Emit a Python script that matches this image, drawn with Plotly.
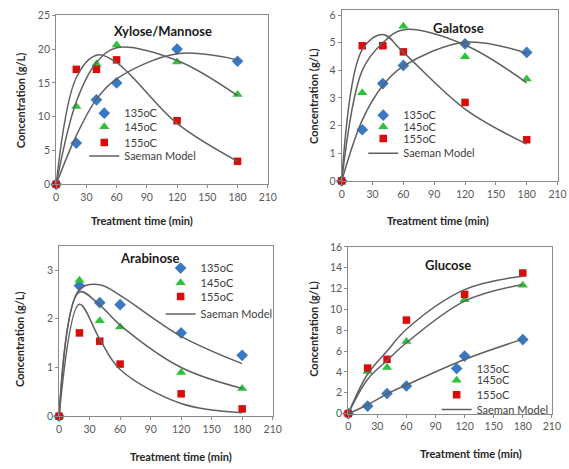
import plotly.graph_objects as go

W, H = 569, 469

# ---------------- data ----------------
t_data = [0, 20, 40, 60, 120, 180]
t_model = [0, 20, 40, 60, 120, 180]
series_names = ["135oC", "145oC", "155oC"]
model_name = "Saeman Model"

xyl_135 = [0, 6.1, 12.5, 15.0, 20.0, 18.2]
xyl_145 = [0, 11.5, 17.8, 20.6, 18.1, 13.3]
xyl_155 = [0, 17.0, 17.0, 18.4, 9.4, 3.4]
xyl_m135 = [0, 7.2, 12.6, 15.6, 19.3, 18.4]
xyl_m145 = [0, 12.2, 18.0, 20.2, 18.3, 13.1]
xyl_m155 = [0, 15.8, 19.1, 18.0, 9.0, 3.4]

gal_135 = [0, 1.85, 3.52, 4.18, 4.96, 4.65]
gal_145 = [0, 3.19, 4.90, 5.60, 4.49, 3.69]
gal_155 = [0, 4.89, 4.89, 4.67, 2.84, 1.49]
gal_m135 = [0, 2.2, 3.45, 4.15, 5.02, 4.62]
gal_m145 = [0, 4.0, 5.0, 5.47, 4.92, 3.55]
gal_m155 = [0, 4.75, 5.3, 4.65, 2.6, 1.33]

ara_135 = [0, 2.68, 2.33, 2.29, 1.71, 1.25]
ara_145 = [0, 2.79, 1.96, 1.83, 0.90, 0.57]
ara_155 = [0, 1.71, 1.54, 1.07, 0.46, 0.15]
ara_m135 = [0, 2.6, 2.7, 2.48, 1.64, 1.08]
ara_m145 = [0, 2.55, 2.28, 1.87, 1.0, 0.57]
ara_m155 = [0, 2.3, 1.58, 0.96, 0.26, 0.07]

glu_135 = [0, 0.72, 1.93, 2.65, 5.52, 7.11]
glu_145 = [0, 4.05, 4.43, 6.92, 10.92, 12.32]
glu_155 = [0, 4.37, 5.21, 8.98, 11.45, 13.5]
glu_m135 = [0, 0.85, 1.9, 2.75, 5.2, 7.15]
glu_m145 = [0, 3.3, 5.1, 6.8, 10.8, 12.4]
glu_m155 = [0, 3.8, 6.0, 8.1, 11.9, 13.2]

panel_titles = ["Xylose/Mannose", "Galatose", "Arabinose", "Glucose"]
x_title = "Treatment time (min)"
y_title = "Concentration (g/L)"

# ---------------- style ----------------
FONT = "Lato"
colors = ["#3a78c3", "#2ec23a", "#dd0a0a"]
symbols = ["diamond", "triangle-up", "square"]
msizes = [9, 9, 7.5]
line_col = "#606060"

# panel geometry (pixels)
panels = [
    dict(x=(54.3, 270.5), y=(9.5, 183.0), yr=[0, 25], dt=5,
         data=[xyl_135, xyl_145, xyl_155], model=[xyl_m135, xyl_m145, xyl_m155],
         title=(163, 26), xt=(142, 220), yt=(18, 97),
         legx=83, legy=[110, 124, 140, 154]),
    dict(x=(346.0, 566.5), y=(4.5, 179.5), yr=[0, 6.17], dt=1,
         data=[gal_135, gal_145, gal_155], model=[gal_m135, gal_m145, gal_m155],
         title=(465, 23), xt=(444, 220), yt=(317, 93),
         legx=368, legy=[112, 124, 136, 151]),
    dict(x=(57.3, 275.5), y=(246.0, 421.0), yr=[0, 3.5], dt=1,
         data=[ara_135, ara_145, ara_155], model=[ara_m135, ara_m145, ara_m155],
         title=(150, 259), xt=(182, 462), yt=(17, 342),
         legx=161, legy=[269, 284, 298, 316]),
    dict(x=(352.7, 560.7), y=(247.3, 418.3), yr=[0, 16], dt=2,
         data=[glu_135, glu_145, glu_155], model=[glu_m135, glu_m145, glu_m155],
         title=(455, 266), xt=(478, 459), yt=(317, 332),
         legx=443, legy=[372, 384, 399, 414]),
]

fig = go.Figure()
annotations = []
layout = dict(
    width=W, height=H, margin=dict(l=0, r=0, t=0, b=0),
    paper_bgcolor="white", plot_bgcolor="white", showlegend=True,
    font=dict(family=FONT, color="#404040"),
)

leg_count = 0


def new_legend(xpx, ypx):
    global leg_count
    leg_count += 1
    name = "legend" if leg_count == 1 else "legend%d" % leg_count
    layout[name] = dict(x=xpx / W, y=1 - ypx / H, xanchor="left", yanchor="middle",
                        bgcolor="rgba(0,0,0,0)", borderwidth=0,
                        font=dict(family=FONT, size=11, color="#404040"),
                        tracegroupgap=0, itemsizing="trace")
    return name


for i, p in enumerate(panels):
    n = "" if i == 0 else str(i + 1)
    xa, ya = "x" + n, "y" + n
    for k in range(3):
        leg = new_legend(p["legx"], p["legy"][k])
        fig.add_trace(go.Scatter(
            x=t_data, y=p["data"][k], mode="markers", name=series_names[k],
            marker=dict(symbol=symbols[k], size=msizes[k], color=colors[k],
                        line=dict(width=0)),
            xaxis=xa, yaxis=ya, legend=leg, cliponaxis=False, showlegend=True))
    leg = new_legend(p["legx"], p["legy"][3])
    for k in range(3):
        fig.add_trace(go.Scatter(
            x=t_model, y=p["model"][k], mode="lines", name=model_name,
            line=dict(color=line_col, width=1.5, shape="spline", smoothing=1.0),
            xaxis=xa, yaxis=ya, legend=leg, showlegend=(k == 0)))

    axis_common = dict(showline=True, linecolor="#8a8a8a", linewidth=1, mirror=True,
                       ticks="outside", ticklen=3, tickcolor="#8a8a8a",
                       showgrid=False, zeroline=False,
                       tickfont=dict(family=FONT, size=10.5, color="#595959"))
    layout["xaxis" + n] = dict(domain=[p["x"][0] / W, p["x"][1] / W],
                               range=[0, 210], dtick=30, tick0=0,
                               anchor=ya, **axis_common)
    layout["yaxis" + n] = dict(domain=[1 - p["y"][1] / H, 1 - p["y"][0] / H],
                               range=p["yr"], dtick=p["dt"], tick0=0,
                               anchor=xa, **axis_common)

    annotations.append(dict(text="<b>%s</b>" % panel_titles[i], xref="paper", yref="paper",
                            x=p["title"][0] / W, y=1 - p["title"][1] / H,
                            xanchor="center", yanchor="middle", showarrow=False,
                            font=dict(family=FONT, size=13, color="#1a1a1a")))
    annotations.append(dict(text="<b>%s</b>" % x_title, xref="paper", yref="paper",
                            x=p["xt"][0] / W, y=1 - p["xt"][1] / H,
                            xanchor="center", yanchor="middle", showarrow=False,
                            font=dict(family=FONT, size=11, color="#262626")))
    annotations.append(dict(text="<b>%s</b>" % y_title, xref="paper", yref="paper",
                            x=p["yt"][0] / W, y=1 - p["yt"][1] / H, textangle=-90,
                            xanchor="center", yanchor="middle", showarrow=False,
                            font=dict(family=FONT, size=11, color="#262626")))

layout["annotations"] = annotations
fig.update_layout(**layout)
fig.write_html("out.html")
